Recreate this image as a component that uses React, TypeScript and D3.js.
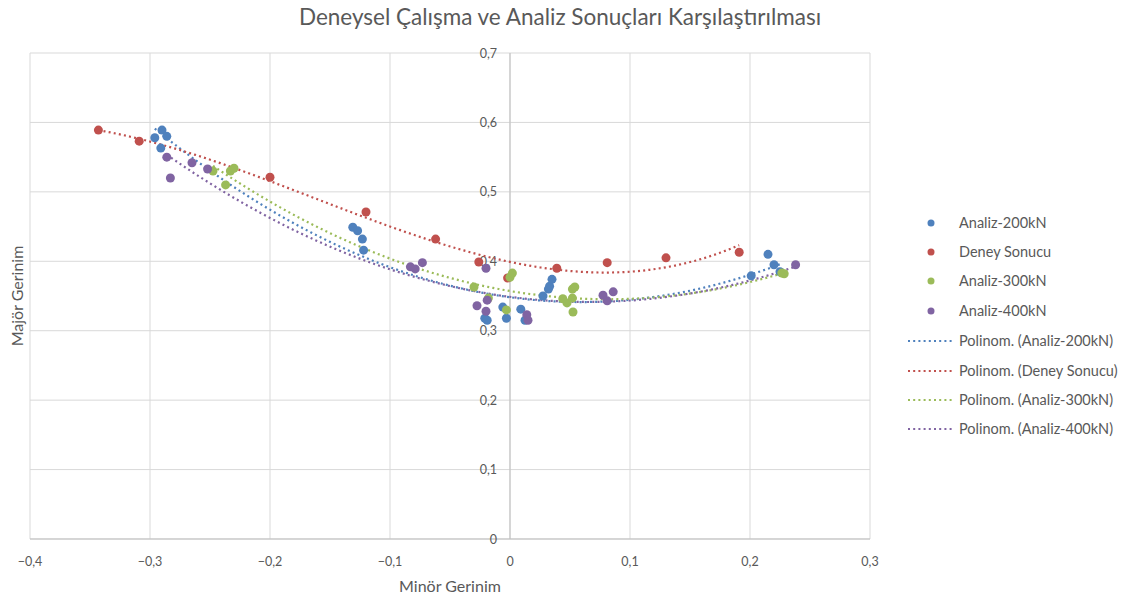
import React from "react";
import * as d3 from "d3";

const seriesNames = ["Analiz-200kN", "Deney Sonucu", "Analiz-300kN", "Analiz-400kN"];
const seriesColors = ["#4F81BD", "#C0504D", "#9BBB59", "#8064A2"];
const trendOrders = [2, 3, 2, 2];

const analiz200X = [-0.296, -0.29, -0.286, -0.291, -0.131, -0.127, -0.123, -0.122, -0.021, -0.019, -0.006, -0.003, 0.009, 0.0125, 0.0275, 0.032, 0.033, 0.035, 0.201, 0.215, 0.22, 0.225];
const analiz200Y = [0.578, 0.589, 0.58, 0.563, 0.449, 0.444, 0.432, 0.416, 0.318, 0.315, 0.334, 0.318, 0.331, 0.315, 0.35, 0.36, 0.364, 0.374, 0.379, 0.41, 0.395, 0.385];

const deneyX = [-0.343, -0.309, -0.2, -0.12, -0.062, -0.026, -0.002, 0.039, 0.081, 0.13, 0.191];
const deneyY = [0.589, 0.573, 0.521, 0.471, 0.432, 0.399, 0.376, 0.39, 0.398, 0.405, 0.413];

const analiz300X = [-0.2475, -0.233, -0.23, -0.237, -0.03, -0.018, -0.003, 0.0, 0.002, 0.044, 0.0475, 0.052, 0.0525, 0.052, 0.054, 0.2265, 0.2285];
const analiz300Y = [0.53, 0.53, 0.534, 0.51, 0.363, 0.347, 0.33, 0.377, 0.383, 0.346, 0.34, 0.347, 0.327, 0.36, 0.363, 0.383, 0.382];

const analiz400X = [-0.286, -0.265, -0.252, -0.283, -0.083, -0.079, -0.073, -0.02, -0.019, -0.0275, -0.02, 0.014, 0.015, 0.0775, 0.086, 0.081, 0.238];
const analiz400Y = [0.55, 0.542, 0.533, 0.52, 0.392, 0.389, 0.398, 0.39, 0.344, 0.336, 0.328, 0.323, 0.315, 0.351, 0.356, 0.343, 0.395];

const xTicks = [-0.4, -0.3, -0.2, -0.1, 0, 0.1, 0.2, 0.3];
const yTicks = [0, 0.1, 0.2, 0.3, 0.4, 0.5, 0.6, 0.7];

const titleText = "Deneysel Çalışma ve Analiz Sonuçları Karşılaştırılması";
const xTitle = "Minör Gerinim";
const yTitle = "Majör Gerinim";

const allX = [analiz200X, deneyX, analiz300X, analiz400X];
const allY = [analiz200Y, deneyY, analiz300Y, analiz400Y];

function polyFit(xs: number[], ys: number[], order: number) {
  const n = order + 1;
  const M: number[][] = Array.from({ length: n }, () => new Array(n + 1).fill(0));
  for (let i = 0; i < xs.length; i++) {
    for (let r = 0; r < n; r++) {
      for (let c = 0; c < n; c++) M[r][c] += Math.pow(xs[i], r + c);
      M[r][n] += ys[i] * Math.pow(xs[i], r);
    }
  }
  for (let c = 0; c < n; c++) {
    let p = c;
    for (let r = c + 1; r < n; r++) if (Math.abs(M[r][c]) > Math.abs(M[p][c])) p = r;
    [M[c], M[p]] = [M[p], M[c]];
    for (let r = 0; r < n; r++) {
      if (r === c) continue;
      const f = M[r][c] / M[c][c];
      for (let k = c; k <= n; k++) M[r][k] -= f * M[c][k];
    }
  }
  const coef = M.map((row, i) => row[n] / row[i]);
  return (x: number) => coef.reduce((s, a, i) => s + a * Math.pow(x, i), 0);
}

const locale = d3.formatLocale({ decimal: ",", thousands: ".", grouping: [3], currency: ["", ""] });
const fmt = (v: number) => (Math.abs(v) < 1e-9 ? "0" : locale.format("")(Math.round(v * 10) / 10));

export default function App() {
  const W = 1125, H = 596;
  const left = 30, right = 870, top = 53, bottom = 539;
  const x = d3.scaleLinear().domain([-0.4, 0.3]).range([left, right]);
  const y = d3.scaleLinear().domain([0, 0.7]).range([bottom, top]);
  const font = "Lato, 'Open Sans', sans-serif";
  const textColor = "#595959";

  const trends = allX.map((xs, i) => {
    const f = polyFit(xs, allY[i], trendOrders[i]);
    const [x0, x1] = d3.extent(xs) as [number, number];
    const pts = d3.range(0, 101).map((k) => {
      const xv = x0 + ((x1 - x0) * k) / 100;
      return [x(xv), y(f(xv))] as [number, number];
    });
    return d3.line()(pts) as string;
  });

  const legendRows = [
    ...seriesNames.map((n, i) => ({ label: n, color: seriesColors[i], kind: "dot" })),
    ...seriesNames.map((n, i) => ({ label: `Polinom. (${n})`, color: seriesColors[i], kind: "line" })),
  ];
  const legendY = [223, 252, 281, 311, 341, 371, 400, 429];

  return (
    <svg width={W} height={H} style={{ position: "absolute", left: 0, top: 0, background: "#fff" }}>
      <rect x={0} y={0} width={W} height={H} fill="#fff" />
      <text x={560} y={25} textAnchor="middle" fontFamily={font} fontSize={22.5} fill={textColor}>
        {titleText}
      </text>
      {xTicks.map((t) => (
        <line key={"gx" + t} x1={x(t)} x2={x(t)} y1={top} y2={bottom} stroke="#d9d9d9" strokeWidth={1} />
      ))}
      {yTicks.map((t) => (
        <line key={"gy" + t} x1={left} x2={right} y1={y(t)} y2={y(t)} stroke="#d9d9d9" strokeWidth={1} />
      ))}
      <line x1={x(0)} x2={x(0)} y1={top} y2={bottom} stroke="#bfbfbf" strokeWidth={1} />
      <line x1={left} x2={right} y1={y(0)} y2={y(0)} stroke="#bfbfbf" strokeWidth={1} />
      {xTicks.map((t) => (
        <text key={"tx" + t} x={x(t)} y={566} textAnchor="middle" fontFamily={font} fontSize={12.5} fill={textColor}>
          {fmt(t)}
        </text>
      ))}
      {yTicks.map((t) => (
        <text key={"ty" + t} x={x(0) - 13} y={y(t) + 4.5} textAnchor="end" fontFamily={font} fontSize={12.5} fill={textColor}>
          {fmt(t)}
        </text>
      ))}
      <text x={450} y={592} textAnchor="middle" fontFamily={font} fontSize={16} fill={textColor}>
        {xTitle}
      </text>
      <text
        transform={`translate(23,${(top + bottom) / 2}) rotate(-90)`}
        textAnchor="middle"
        fontFamily={font}
        fontSize={16}
        fill={textColor}
      >
        {yTitle}
      </text>
      {trends.map((d, i) => (
        <path key={"tr" + i} d={d} fill="none" stroke={seriesColors[i]} strokeWidth={2.2} strokeDasharray="2 3.2" />
      ))}
      {allX.map((xs, i) =>
        xs.map((xv, j) => (
          <circle key={`m${i}-${j}`} cx={x(xv)} cy={y(allY[i][j])} r={4.5} fill={seriesColors[i]} />
        ))
      )}
      {legendRows.map((r, i) => (
        <g key={"lg" + i}>
          {r.kind === "dot" ? (
            <circle cx={931} cy={legendY[i]} r={3.5} fill={r.color} />
          ) : (
            <line x1={908} x2={954} y1={legendY[i]} y2={legendY[i]} stroke={r.color} strokeWidth={2.2} strokeDasharray="2 3.2" />
          )}
          <text x={959} y={legendY[i] + 5} fontFamily={font} fontSize={14.5} fill={textColor}>
            {r.label}
          </text>
        </g>
      ))}
    </svg>
  );
}
